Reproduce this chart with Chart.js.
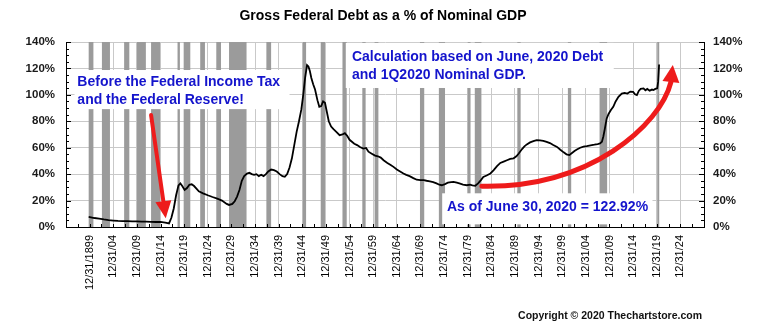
<!DOCTYPE html>
<html>
<head>
<meta charset="utf-8">
<title>Gross Federal Debt as a % of Nominal GDP</title>
<script src="https://cdn.jsdelivr.net/npm/chart.js@4.4.1/dist/chart.umd.min.js"></script>
<style>
  html,body{margin:0;padding:0;background:#fff}
  #c{display:block}
</style>
</head>
<body>
<canvas id="c" width="766" height="329"></canvas>
<script>
// debt / GDP (year as decimal)
const years = [1899.8,1901,1902,1903,1904,1905,1906,1907,1908,1909,1910,1911,1912,1913,1914,1915,1916,1916.8,1917.3,1917.8,
  1918.3,1918.8,1919.2,1919.6,1920.1,1920.6,1921.1,1921.6,1922.1,1922.6,1923.1,1924,1925,1926,1927,1928,1929,1929.5,1930.2,1930.7,
  1931.2,1931.7,1932.2,1932.7,1933.3,1933.8,1934.3,1934.8,1935.3,1935.8,1936.3,1936.8,1937.3,1937.8,1938.4,1939,1939.6,1940.2,1940.8,1941.3,
  1941.8,1942.3,1942.8,1943.3,1943.8,1944.3,1944.8,1945.2,1945.6,1946,1946.3,1946.6,1946.9,1947.3,1947.7,1948.2,1948.6,1949,1949.4,1949.8,
  1950.2,1950.6,1951.1,1951.6,1952.2,1952.9,1953.5,1954,1954.5,1955,1955.5,1956,1956.6,1957.2,1957.9,1958.5,1959,1959.7,1960.4,1961,
  1961.6,1962.2,1963,1963.7,1964.3,1965,1965.7,1966.4,1967,1967.7,1968.5,1969.2,1970,1970.7,1971.3,1972,1972.7,1973.4,1974,1974.5,
  1975.2,1975.8,1976.5,1977,1977.7,1978.4,1979,1979.8,1980.5,1981,1981.6,1982.2,1982.8,1983.3,1984,1984.8,1985.5,1986.2,1986.9,1987.6,
  1988.3,1989,1989.7,1990.3,1990.8,1991.5,1992,1992.5,1993.2,1993.9,1994.6,1995.3,1996,1996.7,1997.4,1998.1,1998.9,1999.6,2000.3,2000.9,
  2001.5,2002,2002.6,2003.1,2003.8,2004.5,2005.2,2006,2006.8,2007.5,2008,2008.4,2008.7,2009,2009.4,2009.8,2010.3,2010.8,2011.3,2011.9,
  2012.6,2013.2,2013.8,2014.4,2015,2015.4,2015.8,2016.2,2016.6,2017.2,2017.6,2018,2018.5,2019,2019.3,2019.7,2020.1,2020.3,2020.5];
const debtPct = [7.6,6.8,6.3,5.7,5.2,4.9,4.6,4.4,4.4,4.3,4.2,4.1,4.0,3.9,3.8,3.8,3.3,2.7,7,14,
  24,31.5,33,31,28,29.5,32,32.3,31,29,27,25.5,24,22.7,21.5,20,17.5,16.7,17.5,19.5,
  23,28,35,38.5,40.5,41,40,39.5,40,38.5,39.5,38.5,40,42,43.5,43,42,40,38.5,38,
  40,45,52,62,72,80,89,100,113,122.5,121.5,118,113,108,104,96,91,91.5,95,94,
  87,80,76,74,72,69.5,70,71,69,66,64.5,63,62,60.5,59.3,59.8,57,55.5,54,53.5,
  52.5,50.5,48.5,47,45.5,43.5,42,40.5,39.5,38.5,37,35.8,35.5,35.5,35,34.5,34,33,32,31.6,
  32.5,33.5,34,34.2,33.5,32.8,32,31.6,32,31.5,31.2,33,35.5,37.9,39,40.5,43,46,48.5,49.5,
  50.5,51.5,52,53.5,55.6,59,61,62.5,64,65,65.7,65.5,65.2,64.4,63.5,62,60.6,58.5,56.5,55,
  54.4,55.8,57.5,58.7,60,60.8,61.2,61.8,62.3,62.8,63.2,64.5,68.5,74,82,85.5,88.5,91,95,98.5,
  101,101.5,101,102.5,102.3,100.5,99.8,103,104.5,104.9,103.5,104.5,103.2,104,103.6,104.5,104.9,110,122.92];

// NBER recessions (shaded)
const recStart = [1899.8,1902.6,1907.3,1910.0,1913.0,1918.6,1919.9,1923.4,1926.8,1929.5,1937.4,1945.1,1948.9,1953.5,1957.7,1960.3,1969.9,1973.9,1980.0,1981.5,1990.5,2001.2,2007.9,2020.1];
const recEnd   = [1900.8,1904.3,1908.4,1911.9,1914.9,1919.1,1921.3,1924.4,1927.8,1933.2,1938.4,1945.8,1949.8,1954.4,1958.4,1961.1,1970.8,1975.2,1980.6,1982.9,1991.2,2001.9,2009.5,2020.4];

const tickYears = [1900,1905,1910,1915,1920,1925,1930,1935,1940,1945,1950,1955,1960,1965,1970,1975,1980,1985,1990,1995,2000,2005,2010,2015,2020,2025];
const tickLabels = ["12/31/1899","12/31/04","12/31/09","12/31/14","12/31/19","12/31/24","12/31/29","12/31/34","12/31/39","12/31/44","12/31/49","12/31/54","12/31/59",
  "12/31/64","12/31/69","12/31/74","12/31/79","12/31/84","12/31/89","12/31/94","12/31/99","12/31/04","12/31/09","12/31/14","12/31/19","12/31/24"];

const FONT = '"Liberation Sans", Arial, Helvetica, sans-serif';
const BLUE = "#1414cc", RED = "#ee1b1b";

// text notes, boxes given in data units [x0, yTop, x1, yBottom]
const notes = [
  {box:[1896.8,118.8,1942.3,89.2], x:1897.4, lines:[["Before the Federal Income Tax",109.9],["and the Federal Reserve!",96.1]]},
  {box:[1954.2,139.3,2010.9,105.2], x:1955.5, lines:[["Calculation based on June, 2020 Debt",128.9],["and 1Q2020 Nominal GDP.",114.8]]},
  {box:[1974.6,25.5,2019.1,2.0], x:1975.6, lines:[["As of June 30, 2020 = 122.92%",14.7]]}
];

const recessionBars = {
  id: "recessionBars",
  beforeDatasetsDraw(c) {
    const {ctx, chartArea: a, scales: {x}} = c;
    ctx.save();
    ctx.fillStyle = "#9b9b9b";
    recStart.forEach((s, i) => {
      const x0 = x.getPixelForValue(s), x1 = x.getPixelForValue(recEnd[i]);
      ctx.fillRect(x0, a.top, Math.max(x1 - x0, 2), a.bottom - a.top);
    });
    ctx.restore();
  }
};

function arrowHead(ctx, bx, by, tx, ty, hw) {
  const dx = tx - bx, dy = ty - by, L = Math.hypot(dx, dy), px = -dy / L * hw, py = dx / L * hw;
  ctx.beginPath();
  ctx.moveTo(tx, ty); ctx.lineTo(bx + px, by + py); ctx.lineTo(bx - px, by - py);
  ctx.closePath(); ctx.fill();
}

const notesPlugin = {
  id: "notes",
  afterDatasetsDraw(c) {
    const {ctx, chartArea: a, scales: {x, y}} = c;
    const P = (vx, vy) => [x.getPixelForValue(vx), y.getPixelForValue(vy)];
    ctx.save();
    // white label boxes + blue text
    notes.forEach(n => {
      const [x0, y0] = P(n.box[0], n.box[1]), [x1, y1] = P(n.box[2], n.box[3]);
      ctx.fillStyle = "#fff";
      ctx.fillRect(x0, y0, x1 - x0, y1 - y0);
      ctx.fillStyle = BLUE;
      ctx.font = "bold 14px " + FONT;
      ctx.textBaseline = "middle";
      n.lines.forEach(([t, vy]) => ctx.fillText(t, x.getPixelForValue(n.x), y.getPixelForValue(vy)));
    });
    // red arrows
    ctx.strokeStyle = RED; ctx.fillStyle = RED; ctx.lineCap = "round";
    let [s0, s1] = P(1913.0, 84.7), [b0, b1] = P(1915.6, 19.5), [t0, t1] = P(1916.1, 6.6);
    ctx.lineWidth = 4;
    ctx.beginPath(); ctx.moveTo(s0, s1); ctx.lineTo(b0, b1); ctx.stroke();
    arrowHead(ctx, b0, b1, t0, t1, 8);
    const q0 = P(1983.0, 30.9), q1 = P(2005.9, 29.3), q2 = P(2020.7, 77.1), q3 = P(2023.0, 109.7), tip = P(2023.4, 122.6);
    ctx.lineWidth = 5;
    ctx.beginPath(); ctx.moveTo(...q0); ctx.bezierCurveTo(...q1, ...q2, ...q3); ctx.stroke();
    arrowHead(ctx, q3[0], q3[1], tip[0], tip[1], 8.5);
    // small inward ticks on the frame
    ctx.strokeStyle = "#000"; ctx.lineWidth = 1; ctx.lineCap = "butt";
    ctx.beginPath();
    for (let v = 0; v <= 140; v += 5) {
      const py = Math.round(y.getPixelForValue(v)) + 0.5, l = v % 20 ? 3 : 5;
      ctx.moveTo(a.left, py); ctx.lineTo(a.left + l, py);
      ctx.moveTo(a.right, py); ctx.lineTo(a.right - l, py);
    }
    for (let v = 1897.5; v < 2030; v += 2.5) {
      const pxl = Math.round(x.getPixelForValue(v)) + 0.5;
      ctx.moveTo(pxl, a.bottom); ctx.lineTo(pxl, a.bottom - 3);
    }
    ctx.stroke();
    ctx.restore();
  },
  afterDraw(c) {
    const ctx = c.ctx;
    ctx.save();
    ctx.fillStyle = "#111";
    ctx.font = "bold 10.5px " + FONT;
    ctx.textAlign = "right";
    ctx.textBaseline = "middle";
    ctx.fillText("Copyright \u00a9 2020 Thechartstore.com", 702, 316);
    ctx.restore();
  }
};

const gridCol = "#c9c9c9";
const yTick = {color: "#1a1a1a", font: {family: FONT, size: 11.5, weight: "bold"}, stepSize: 20, callback: v => v + "%"};

new Chart(document.getElementById("c"), {
  type: "line",
  data: {
    datasets: [{
      data: years.map((yr, i) => ({x: yr, y: debtPct[i]})),
      borderColor: "#000", borderWidth: 1.8, pointRadius: 0, tension: 0, fill: false
    }]
  },
  options: {
    responsive: false, animation: false, devicePixelRatio: 1,
    layout: {padding: 0},
    plugins: {
      legend: {display: false}, tooltip: {enabled: false},
      title: {display: true, text: "Gross Federal Debt as a % of Nominal GDP", color: "#000",
        font: {family: FONT, size: 14, weight: "bold"}, padding: {top: 8, bottom: 17.2}}
    },
    scales: {
      x: {
        type: "linear", min: 1895, max: 2030,
        afterBuildTicks: s => { s.ticks = tickYears.map(v => ({value: v})); },
        afterFit: s => { s.height = 102; },
        grid: {color: gridCol, drawTicks: false},
        border: {color: "#000", width: 1},
        ticks: {autoSkip: false, minRotation: 90, maxRotation: 90, padding: 8, color: "#000",
          font: {family: FONT, size: 11}, callback: (v, i) => tickLabels[i]}
      },
      y: {
        position: "left", min: 0, max: 140,
        afterFit: s => { s.width = 66; },
        grid: {color: gridCol, drawTicks: false},
        border: {color: "#000", width: 1},
        ticks: {...yTick, padding: 11}
      },
      y2: {
        position: "right", min: 0, max: 140,
        afterFit: s => { s.width = 62; },
        grid: {drawOnChartArea: false, drawTicks: false},
        border: {color: "#000", width: 1},
        ticks: {...yTick, padding: 9}
      }
    }
  },
  plugins: [recessionBars, notesPlugin]
});
</script>
</body>
</html>
